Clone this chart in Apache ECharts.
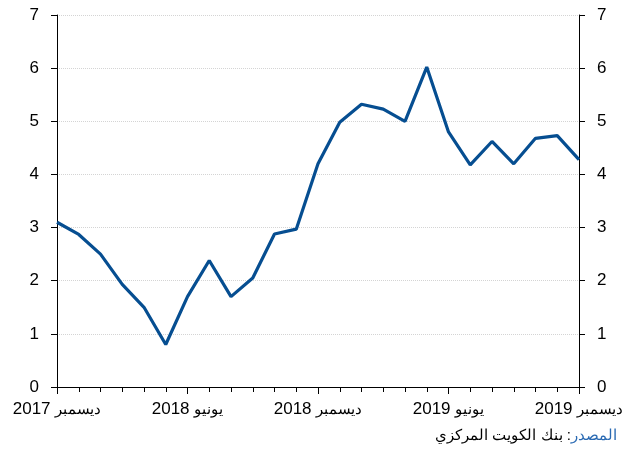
<!DOCTYPE html>
<html>
<head>
<meta charset="utf-8">
<script src="https://cdn.jsdelivr.net/npm/echarts@6/dist/echarts.min.js"></script>
<style>html,body{margin:0;padding:0;background:#fff;}#c{width:638px;height:450px;}</style>
</head>
<body>
<div id="c"></div>
<script>
// Monthly values, Dec 2017 .. Dec 2019
const values = [3.10, 2.87, 2.50, 1.93, 1.50, 0.80, 1.70, 2.38, 1.70, 2.05, 2.88, 2.97,
                4.20, 4.98, 5.32, 5.23, 5.00, 6.02, 4.80, 4.18, 4.62, 4.20, 4.68, 4.73, 4.28];
const tickMonths = ['ديسمبر', 'يونيو', 'ديسمبر', 'يونيو', 'ديسمبر'];
const tickYears = ['2017', '2018', '2018', '2019', '2019'];
const yTicks = [0, 1, 2, 3, 4, 5, 6, 7];
const sourceLabel = 'المصدر';
const sourceText = 'بنك الكويت المركزي :';

const font = 'Liberation Sans, Arial, sans-serif';
const chart = echarts.init(document.getElementById('c'), null, {renderer: 'canvas'});
const yAxisCommon = {
  type: 'value', min: 0, max: 7, interval: 1,
  axisLine: {show: true, lineStyle: {color: '#000', width: 1}},
  axisTick: {show: true, length: 6, lineStyle: {color: '#000'}},
  axisLabel: {color: '#000', fontSize: 17, fontFamily: font, margin: 18,
    formatter: v => yTicks.indexOf(v) >= 0 ? String(v) : ''},
};
chart.setOption({
  animation: false,
  grid: {left: 57, right: 59, top: 15, bottom: 63, containLabel: false},
  xAxis: {
    type: 'value', min: 0, max: 24, interval: 6,
    axisLine: {show: true, onZero: false, lineStyle: {color: '#000', width: 1}},
    axisTick: {show: true, length: 7, lineStyle: {color: '#000'}},
    minorTick: {show: true, splitNumber: 6, length: 5, lineStyle: {color: '#000'}},
    splitLine: {show: false},
    axisLabel: {color: '#000', fontFamily: font, margin: 14,
      formatter: v => {
        const i = Math.round(v / 6);
        return '{n|' + tickYears[i] + ' }{a|' + tickMonths[i] + '}';
      },
      rich: {
        n: {fontSize: 17, fontFamily: font, color: '#000'},
        a: {fontSize: 15, fontFamily: font, color: '#000'}
      }
    }
  },
  yAxis: [
    Object.assign({}, yAxisCommon, {position: 'left',
      splitLine: {show: true, lineStyle: {color: '#d4d4d4', type: 'dotted', width: 1}}}),
    Object.assign({}, yAxisCommon, {position: 'right', splitLine: {show: false}})
  ],
  graphic: [{
    type: 'text', right: 21, top: 428,
    style: {
      text: '{k|' + sourceText + '}{s|' + sourceLabel + '}',
      rich: {
        k: {fill: '#000', fontSize: 15, fontFamily: font},
        s: {fill: '#2a6ab3', fontSize: 15, fontFamily: font}
      }
    }
  }],
  series: [{
    type: 'line', yAxisIndex: 0,
    data: values.map((v, i) => [i, v]),
    showSymbol: false, symbol: 'none',
    lineStyle: {color: '#064e91', width: 3.2},
    z: 5
  }]
});
</script>
</body>
</html>
